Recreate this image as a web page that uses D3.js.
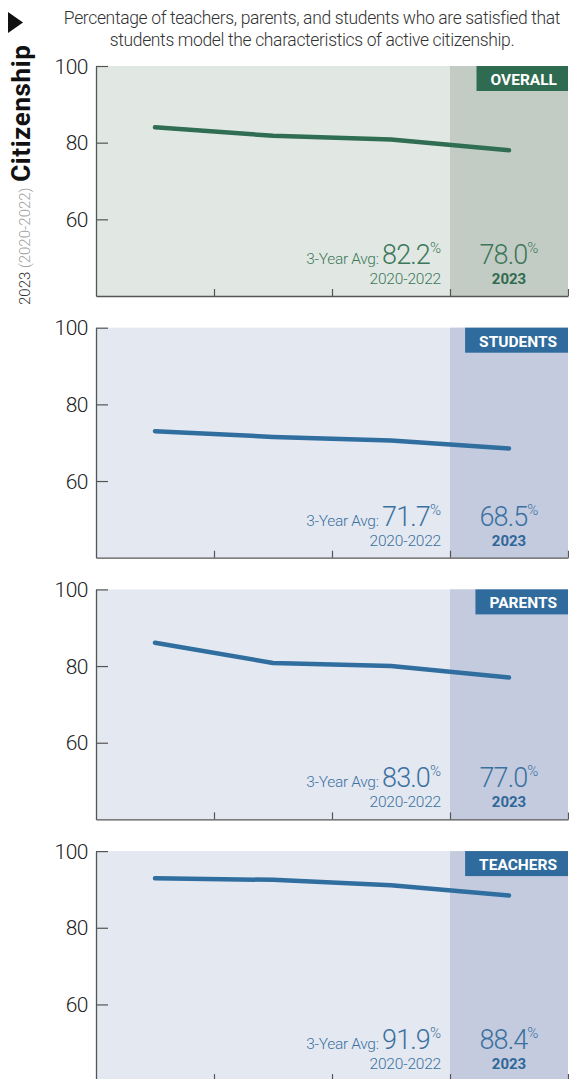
<!DOCTYPE html>
<html>
<head>
<meta charset="utf-8">
<script src="https://cdn.jsdelivr.net/npm/d3@7"></script>
<style>
  html, body { margin: 0; padding: 0; background: #fff; }
  svg { display: block; font-family: Roboto, "Liberation Sans", sans-serif; }
</style>
</head>
<body>
<svg id="chart" width="569" height="1079"></svg>
<script>
// Survey years and the four respondent groups
const years = ["2020", "2021", "2022", "2023"];
const groups = ["OVERALL", "STUDENTS", "PARENTS", "TEACHERS"];

// Percent satisfied, one array per group
const overallValues = [84.0, 81.8, 80.8, 78.0];
const studentValues = [73.0, 71.5, 70.6, 68.5];
const parentValues  = [86.1, 80.8, 80.0, 77.0];
const teacherValues = [92.9, 92.5, 91.1, 88.4];

// Published three-year averages (2020-2022)
const avgLabels = ["82.2", "71.7", "83.0", "91.9"];

// Y-axis tick labels
const yTicks = [60, 80, 100];

const seriesValues = [overallValues, studentValues, parentValues, teacherValues];

// Colour themes: green for the overall panel, blue for the groups
const themes = {
  green: { line: "#2f6e52", bg: "#e1e8e3", shade: "#c3ccc4", badge: "#2f6b50", text: "#3c775a", strong: "#2f6b50" },
  blue:  { line: "#2f6e9f", bg: "#e4e8f1", shade: "#c4cbdf", badge: "#2f6b9d", text: "#3a71a0", strong: "#2f6799" }
};

const svg = d3.select("#chart");

// Heading
svg.append("path")
  .attr("d", "M8,12 L23,22.5 L8,33 Z")
  .attr("fill", "#111");

const title = svg.append("text")
  .attr("text-anchor", "middle")
  .attr("fill", "#333")
  .style("font-size", "17.5px")
  .style("font-weight", "300")
  .style("letter-spacing", "-0.35px");
title.append("tspan").attr("x", 312).attr("y", 24)
  .text("Percentage of teachers, parents, and students who are satisfied that");
title.append("tspan").attr("x", 312).attr("y", 46)
  .text("students model the characteristics of active citizenship.");

// Rotated side label
const side = svg.append("text")
  .attr("transform", "translate(30,305) rotate(-90)")
  .attr("text-anchor", "start");
side.append("tspan").attr("fill", "#333").style("font-size", "15px").style("font-weight", "300").text("2023 ");
side.append("tspan").attr("fill", "#a0a0a0").style("font-size", "15px").style("font-weight", "300").text("(2020-2022) ");
side.append("tspan").attr("fill", "#111").style("font-size", "26px").style("font-weight", "700")
  .style("letter-spacing", "0.6px").attr("dx", 2).text("Citizenship");

// Shared layout
const left = 96, right = 568;
const panelTop0 = 66, panelStep = 261.7, panelH = 230;

const x = d3.scaleBand().domain(years).range([left, right]).padding(0);
const xEdge = d3.scaleLinear().domain([0, years.length]).range([left, right]);

groups.forEach((name, i) => {
  const values = seriesValues[i];
  const th = i === 0 ? themes.green : themes.blue;
  const top = panelTop0 + i * panelStep;
  const y = d3.scaleLinear().domain([40, 100]).range([top + panelH, top]);

  const g = svg.append("g");

  // Panel background and highlighted latest year
  g.append("rect")
    .attr("x", left).attr("y", top)
    .attr("width", right - left).attr("height", panelH)
    .attr("fill", th.bg);
  g.append("rect")
    .attr("x", x("2023")).attr("y", top)
    .attr("width", x.bandwidth()).attr("height", panelH)
    .attr("fill", th.shade);

  // Group badge in the top-right corner
  const badge = g.append("g");
  const badgeText = badge.append("text")
    .attr("x", right - 11).attr("y", top + 19)
    .attr("text-anchor", "end")
    .attr("fill", "#fff")
    .style("font-size", "15.5px")
    .style("font-weight", "700")
    .text(name);
  const bw = badgeText.node().getComputedTextLength();
  badge.insert("rect", "text")
    .attr("x", right - 11 - bw - 14).attr("y", top)
    .attr("width", bw + 25).attr("height", 25)
    .attr("fill", th.badge);

  // Trend line
  const line = d3.line()
    .x((d, j) => x(years[j]) + x.bandwidth() / 2)
    .y(d => y(d));
  g.append("path")
    .datum(values)
    .attr("d", line)
    .attr("fill", "none")
    .attr("stroke", th.line)
    .attr("stroke-width", 4.5)
    .attr("stroke-linecap", "round")
    .attr("stroke-linejoin", "round");

  // Axes
  const yAxis = d3.axisLeft(y).tickValues(yTicks).tickSize(-12).tickSizeOuter(0).tickPadding(8);
  const ya = g.append("g").attr("transform", `translate(${left},0)`).call(yAxis);
  ya.selectAll("text").attr("fill", "#222").style("font-size", "21px").style("font-family", "Roboto, sans-serif").style("font-weight", "300").style("letter-spacing", "-0.5px").attr("dy", "0.34em");

  const xAxis = d3.axisBottom(xEdge).tickValues([1, 2, 3, 4]).tickSize(-7).tickSizeOuter(0).tickFormat("");
  const xa = g.append("g").attr("transform", `translate(0,${top + panelH})`).call(xAxis);

  [ya, xa].forEach(a => {
    a.select(".domain").attr("stroke", "#555").attr("stroke-width", 1.3);
    a.selectAll(".tick line").attr("stroke", "#555").attr("stroke-width", 1.2);
  });

  // Averages for 2020-2022
  const avgRight = x("2023") - 9;
  const base = top + panelH - 32;
  const avg = g.append("text")
    .attr("x", avgRight).attr("y", base)
    .attr("text-anchor", "end")
    .attr("fill", th.text)
    .style("font-weight", "300");
  avg.append("tspan").style("font-size", "15.5px").style("letter-spacing", "-0.3px").text("3-Year Avg: ");
  avg.append("tspan").style("font-size", "27px").style("letter-spacing", "-0.9px").text(avgLabels[i]);
  avg.append("tspan").style("font-size", "15px").attr("dy", -11).text("%");

  g.append("text")
    .attr("x", avgRight).attr("y", base + 20)
    .attr("text-anchor", "end")
    .attr("fill", th.text)
    .style("font-size", "15.5px")
    .style("font-weight", "300")
    .style("letter-spacing", "-0.2px")
    .text("2020-2022");

  // Latest year value, taken from the series
  const cx = x("2023") + x.bandwidth() / 2;
  const cur = g.append("text")
    .attr("x", cx).attr("y", base)
    .attr("text-anchor", "middle")
    .attr("fill", th.text)
    .style("font-weight", "300");
  cur.append("tspan").style("font-size", "27px").style("letter-spacing", "-0.9px").text(values[3].toFixed(1));
  cur.append("tspan").style("font-size", "15px").attr("dy", -11).text("%");

  g.append("text")
    .attr("x", cx).attr("y", base + 20)
    .attr("text-anchor", "middle")
    .attr("fill", th.strong)
    .style("font-size", "15px")
    .style("font-weight", "700")
    .text("2023");
});
</script>
</body>
</html>
